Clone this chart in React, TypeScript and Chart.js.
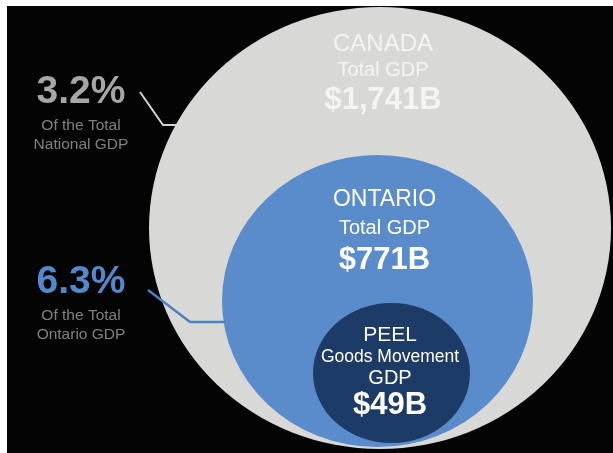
import React, { useEffect, useRef } from "react";
import { Chart, registerables } from "chart.js";

Chart.register(...registerables);

// ---------- data ----------
const regions = ["CANADA", "ONTARIO", "PEEL"];
const regionSubtitles = [["Total GDP"], ["Total GDP"], ["Goods Movement", "GDP"]];
const gdpBillions = [1741, 771, 49];
const shareValues = [3.2, 6.3];
const shareCaptions = [
  ["Of the Total", "National GDP"],
  ["Of the Total", "Ontario GDP"],
];

// ---------- layout (page coordinates, used through the scales) ----------
const CIRCLES = [
  { cx: 380, cy: 228, rx: 231, ry: 221, fill: "#d8d8d6" },
  { cx: 377.5, cy: 301, rx: 155.5, ry: 146, fill: "#5a8ccb" },
  { cx: 391.5, cy: 373, rx: 78.5, ry: 70, fill: "#1d3b67" },
];

const REGION_TEXT = [
  { x: 383, color: "#f4f4f2", lines: [{ y: 44, size: 24 }, { y: 70, size: 20 }], value: { y: 100, size: 31 } },
  { x: 384.5, color: "#ffffff", lines: [{ y: 200, size: 23 }, { y: 228, size: 20 }], value: { y: 260, size: 31 } },
  { x: 390, color: "#ffffff", lines: [{ y: 335, size: 21 }, { y: 357, size: 17.5 }, { y: 378, size: 20 }], value: { y: 405, size: 31 } },
];

const SHARE_TEXT = [
  { x: 81, color: "#a6a6a6", y: 92, size: 39, captionY: [126, 145] },
  { x: 81, color: "#5389cc", y: 282, size: 39, captionY: [316, 335] },
];

const CONNECTORS = [
  { color: "#d2d2d2", width: 2, points: [{ x: 140, y: 92 }, { x: 163, y: 125 }, { x: 178, y: 125 }] },
  { color: "#4a82c4", width: 2.5, points: [{ x: 148, y: 290 }, { x: 190, y: 322 }, { x: 226, y: 322 }] },
];

const FONT = '"Liberation Sans", Arial, "Helvetica Neue", sans-serif';

export default function App() {
  const ref = useRef<HTMLCanvasElement>(null);

  useEffect(() => {
    document.body.style.margin = "6px 0 0 7px";
    document.body.style.overflow = "hidden";
    const canvas = ref.current!;

    const infographic = {
      id: "infographic",
      beforeDraw(chart: any) {
        const { ctx, width, height } = chart;
        ctx.save();
        ctx.fillStyle = "#040404";
        ctx.fillRect(0, 0, width, height);
        ctx.restore();
      },
      beforeDatasetsDraw(chart: any) {
        const { ctx } = chart;
        const xs = chart.scales.x;
        const ys = chart.scales.y;
        ctx.save();
        CIRCLES.forEach((c) => {
          const px = xs.getPixelForValue(c.cx);
          const py = ys.getPixelForValue(c.cy);
          const rx = Math.abs(xs.getPixelForValue(c.cx + c.rx) - px);
          const ry = Math.abs(ys.getPixelForValue(c.cy + c.ry) - py);
          ctx.beginPath();
          ctx.ellipse(px, py, rx, ry, 0, 0, Math.PI * 2);
          ctx.fillStyle = c.fill;
          ctx.fill();
        });
        ctx.restore();
      },
      afterDatasetsDraw(chart: any) {
        const { ctx } = chart;
        const xs = chart.scales.x;
        const ys = chart.scales.y;
        const put = (t: string, x: number, y: number, size: number, bold: boolean, color: string) => {
          ctx.font = `${bold ? "bold " : ""}${size}px ${FONT}`;
          ctx.fillStyle = color;
          ctx.textAlign = "center";
          ctx.textBaseline = "middle";
          ctx.fillText(t, xs.getPixelForValue(x), ys.getPixelForValue(y));
        };
        ctx.save();
        regions.forEach((name, i) => {
          const L = REGION_TEXT[i];
          const lines = [name, ...regionSubtitles[i]];
          lines.forEach((t, j) => put(t, L.x, L.lines[j].y, L.lines[j].size, false, L.color));
          put("$" + gdpBillions[i].toLocaleString("en-US") + "B", L.x, L.value.y, L.value.size, true, L.color);
        });
        shareValues.forEach((v, i) => {
          const S = SHARE_TEXT[i];
          put(v.toFixed(1) + "%", S.x, S.y, S.size, true, S.color);
          shareCaptions[i].forEach((t, j) => put(t, S.x, S.captionY[j], 15.5, false, "#808080"));
        });
        ctx.restore();
      },
    };

    const chart = new Chart(canvas, {
      type: "scatter",
      data: {
        datasets: CONNECTORS.map((c, i) => ({
          type: "line" as const,
          label: "connector " + (i + 1),
          data: c.points,
          borderColor: c.color,
          borderWidth: c.width,
          pointRadius: 0,
          showLine: true,
          fill: false,
          tension: 0,
          borderJoinStyle: "miter" as const,
          clip: false as any,
        })),
      },
      options: {
        animation: false,
        responsive: false,
        maintainAspectRatio: false,
        events: [],
        layout: { padding: 0 },
        plugins: { legend: { display: false }, tooltip: { enabled: false } },
        scales: {
          x: { type: "linear", min: 7, max: 613, display: false },
          y: { type: "linear", min: 6, max: 453, reverse: true, display: false },
        },
      },
      plugins: [infographic],
    });
    return () => chart.destroy();
  }, []);

  return <canvas ref={ref} width={606} height={447} style={{ display: "block" }} />;
}
